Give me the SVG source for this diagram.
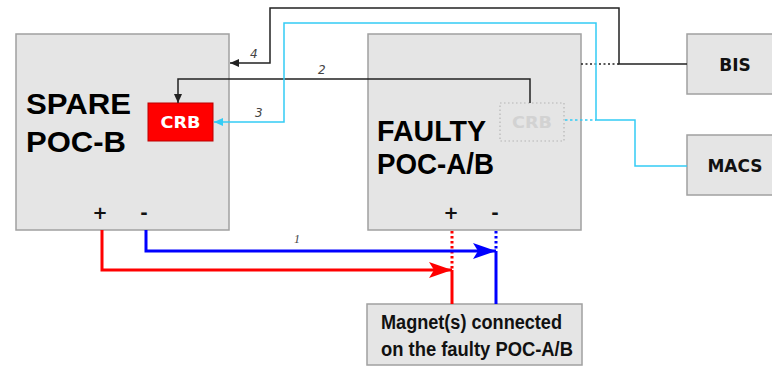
<svg xmlns="http://www.w3.org/2000/svg" width="772" height="366" viewBox="0 0 772 366">
<style>
.box{fill:#e5e5e5;stroke:#a0a0a0;stroke-width:1.5}
.big{font-family:"Liberation Sans",Arial,sans-serif;font-weight:bold;font-size:30px;fill:#000}
.side{font-family:"DejaVu Sans",Verdana,sans-serif;font-weight:bold;font-size:17px;fill:#111;text-anchor:middle}
.pm{font-family:"DejaVu Sans",Verdana,sans-serif;font-weight:bold;font-size:18px;fill:#111;text-anchor:middle}
.num{font-family:"DejaVu Sans",Verdana,sans-serif;font-style:italic;font-size:12px;fill:#444}
.mag{font-family:"Liberation Sans Narrow","Liberation Sans",Arial,sans-serif;font-weight:bold;font-size:20px;fill:#111}
.blk{fill:none;stroke:#222;stroke-width:1.5}
.cy{fill:none;stroke:#33ccf5;stroke-width:1.5}
.red{fill:none;stroke:#ff0000;stroke-width:3}
.blu{fill:none;stroke:#0000ff;stroke-width:3}
</style>
<defs>
<marker id="ab" markerUnits="userSpaceOnUse" markerWidth="10" markerHeight="10" refX="9" refY="4" orient="auto"><path d="M0,0 L9,4 L0,8 Z" fill="#222"/></marker>
<marker id="ac" markerUnits="userSpaceOnUse" markerWidth="10" markerHeight="10" refX="9" refY="4" orient="auto"><path d="M0,0 L9,4 L0,8 Z" fill="#33ccf5"/></marker>
<marker id="ar" markerUnits="userSpaceOnUse" markerWidth="24" markerHeight="18" refX="23" refY="8" orient="auto"><path d="M0,0 L23,8 L0,16 L5,8 Z" fill="#ff0000"/></marker>
<marker id="abl" markerUnits="userSpaceOnUse" markerWidth="24" markerHeight="18" refX="23" refY="8" orient="auto"><path d="M0,0 L23,8 L0,16 L5,8 Z" fill="#0000ff"/></marker>
</defs>

<g id="spare">
<rect class="box" x="16" y="34" width="213" height="196"/>
<text class="big" x="26" y="114" textLength="105" lengthAdjust="spacingAndGlyphs">SPARE</text>
<text class="big" x="26" y="152" textLength="100" lengthAdjust="spacingAndGlyphs">POC-B</text>
<text class="pm" x="100" y="219">+</text>
<text class="pm" x="144" y="219">-</text>
</g>
<g id="spare-crb">
<rect x="148" y="103" width="65" height="38" fill="#ff0000" stroke="#b00" stroke-width="1"/>
<text x="180.5" y="128" font-family="DejaVu Sans,Verdana,sans-serif" font-weight="bold" font-size="15" fill="#fff" text-anchor="middle" textLength="40" lengthAdjust="spacingAndGlyphs">CRB</text>
</g>

<g id="faulty">
<rect class="box" x="368" y="34" width="213" height="196"/>
<text class="big" x="377" y="141" textLength="109" lengthAdjust="spacingAndGlyphs">FAULTY</text>
<text class="big" x="377" y="174" textLength="117" lengthAdjust="spacingAndGlyphs">POC-A/B</text>
<text class="pm" x="451" y="219">+</text>
<text class="pm" x="495" y="219">-</text>
</g>
<g id="faulty-crb">
<rect x="500" y="103" width="64" height="38" fill="none" stroke="#b5b5b5" stroke-width="1.2" stroke-dasharray="1.5 2.5"/>
<text x="532" y="128" font-family="DejaVu Sans,Verdana,sans-serif" font-weight="bold" font-size="15" fill="#d2d2d2" text-anchor="middle" textLength="40" lengthAdjust="spacingAndGlyphs">CRB</text>
</g>

<g id="bis">
<rect class="box" x="687" y="34" width="100" height="60"/>
<text class="side" x="735" y="71">BIS</text>
</g>
<g id="macs">
<rect class="box" x="687" y="135" width="100" height="60"/>
<text class="side" x="735" y="172">MACS</text>
</g>

<g id="magnets">
<rect class="box" x="367" y="304" width="215" height="61"/>
<text class="mag" x="381" y="329" textLength="181" lengthAdjust="spacingAndGlyphs">Magnet(s) connected</text>
<text class="mag" x="381" y="356" textLength="192" lengthAdjust="spacingAndGlyphs">on the faulty POC-A/B</text>
</g>

<g id="connectors">
<path class="blk" d="M687,64 H619 V8 H270 V63 H230" marker-end="url(#ab)"/>
<path class="blk" d="M581,64 H619" stroke-dasharray="2 2.5"/>
<path class="blk" d="M530,103 V79 H178 V103" marker-end="url(#ab)"/>
<path class="cy" d="M687,166 H635 V120 H596 V23 H284 V122 H214" marker-end="url(#ac)"/>
<path class="cy" d="M565,120 H596" stroke-dasharray="2.5 2.5"/>
<path class="red" d="M102,230 V270 H452" marker-end="url(#ar)"/>
<path class="red" d="M452,231 V270" stroke-dasharray="2.5 2.5"/>
<path class="red" d="M452,270 V304"/>
<path class="blu" d="M146,230 V251 H496" marker-end="url(#abl)"/>
<path class="blu" d="M496,231 V251" stroke-dasharray="2.5 2.5"/>
<path class="blu" d="M496,251 V304"/>
<text class="num" x="250" y="58">4</text>
<text class="num" x="318" y="74">2</text>
<text class="num" x="255" y="117">3</text>
<text x="294" y="243" font-family="Liberation Serif,serif" font-style="italic" font-size="12" fill="#444">1</text>
</g>
</svg>
